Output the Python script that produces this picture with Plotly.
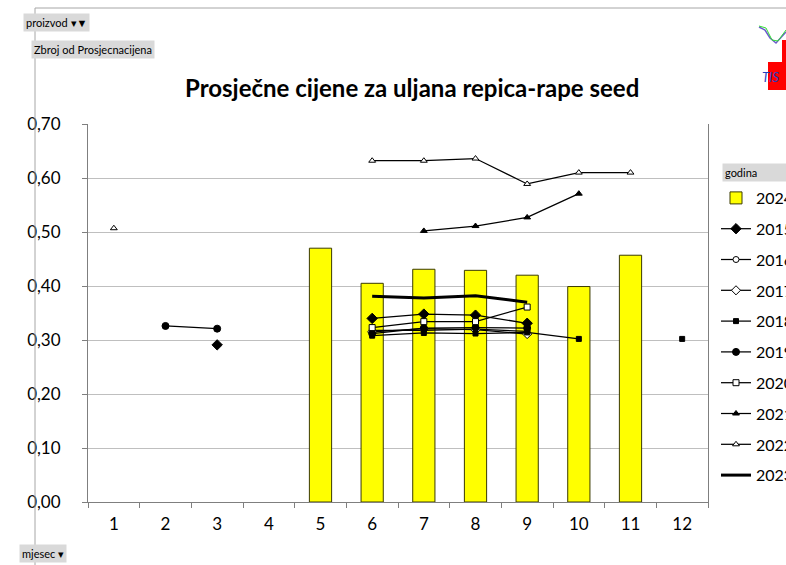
import plotly.graph_objects as go

# podaci: mjeseci i prosječne cijene po godinama
mjeseci = list(range(1, 13))
cijene_2024 = [None, None, None, None, 0.470, 0.405, 0.431, 0.429, 0.420, 0.399, 0.457, None]
cijene_2015 = [None, None, 0.291, None, None, 0.340, 0.348, 0.346, 0.331, None, None, None]
cijene_2016 = [None, None, None, None, None, 0.318, 0.318, 0.320, 0.316, None, None, None]
cijene_2017 = [None, None, None, None, None, 0.315, 0.321, 0.319, 0.311, None, None, None]
cijene_2018 = [None, None, None, None, None, 0.308, 0.313, 0.312, 0.314, 0.302, None, 0.302]
cijene_2019 = [None, 0.326, 0.321, None, None, 0.312, 0.322, 0.323, 0.322, None, None, None]
cijene_2020 = [None, None, None, None, None, 0.323, 0.334, 0.334, 0.361, None, None, None]
cijene_2021 = [None, None, None, None, None, None, 0.502, 0.511, 0.527, 0.571, None, None]
cijene_2022 = [0.507, None, None, None, None, 0.632, 0.632, 0.636, 0.589, 0.610, 0.610, None]
cijene_2023 = [None, None, None, None, None, 0.381, 0.378, 0.382, 0.370, None, None, None]

FONT = "Lato"

# piksel -> paper koordinate (plot area 88..708 x 124..502)
W, H = 786, 565
L, R, T, B = 88, 708, 124, 502


def px(x):
    return (x - L) / (R - L)


def py(y):
    return (B - y) / (B - T)


fig = go.Figure()

fig.add_trace(go.Bar(
    x=mjeseci, y=cijene_2024, name="2024", width=0.43,
    marker=dict(color="#ffff00", line=dict(color="#3a3a00", width=1)),
    legendgroup="2024",
))

# linijske serije: (ime, podaci, simbol, veličina, ispuna)
serije = [
    ("2015", cijene_2015, "diamond", 8, "black"),
    ("2016", cijene_2016, "circle", 6, "white"),
    ("2017", cijene_2017, "diamond", 7, "white"),
    ("2018", cijene_2018, "square", 5, "black"),
    ("2019", cijene_2019, "circle", 7, "black"),
    ("2020", cijene_2020, "square", 6, "white"),
    ("2021", cijene_2021, "triangle-up", 6, "black"),
    ("2022", cijene_2022, "triangle-up", 6, "white"),
]
for ime, vals, sym, size, fill in serije:
    fig.add_trace(go.Scatter(
        x=mjeseci, y=vals, name=ime, mode="lines+markers",
        line=dict(color="black", width=1.25),
        marker=dict(symbol=sym, size=size, color=fill, line=dict(color="black", width=1)),
        legendgroup=ime,
    ))

fig.add_trace(go.Scatter(
    x=mjeseci, y=cijene_2023, name="2023", mode="lines",
    line=dict(color="black", width=3), legendgroup="2023",
))

shapes = [
    # okvir grafikona
    dict(type="line", xref="paper", yref="paper", x0=px(35), x1=px(W + 5), y0=py(8), y1=py(8),
         line=dict(color="#a6a6a6", width=1)),
    dict(type="line", xref="paper", yref="paper", x0=px(35), x1=px(35), y0=py(8), y1=py(H + 5),
         line=dict(color="#a6a6a6", width=1)),
    # logo
    dict(type="rect", xref="paper", yref="paper", x0=px(768), x1=px(790), y0=py(62), y1=py(90),
         fillcolor="#ff0000", line=dict(width=0)),
    dict(type="rect", xref="paper", yref="paper", x0=px(782), x1=px(790), y0=py(40), y1=py(62),
         fillcolor="#ff0000", line=dict(width=0)),
    dict(type="path", xref="paper", yref="paper",
         path="M %f,%f L %f,%f L %f,%f L %f,%f L %f,%f" % (
             px(759), py(27), px(765), py(30), px(770), py(38), px(776), py(43), px(786), py(32)),
         line=dict(color="#6a5acd", width=1.5)),
    dict(type="path", xref="paper", yref="paper",
         path="M %f,%f L %f,%f L %f,%f L %f,%f L %f,%f" % (
             px(759), py(26), px(766), py(28), px(772), py(40), px(778), py(41), px(786), py(30)),
         line=dict(color="#33dd33", width=1)),
]

btn = dict(xref="paper", yref="paper", showarrow=False, bgcolor="#d9d9d9", yanchor="middle",
           font=dict(family=FONT, size=11, color="black"), borderpad=2)
annotations = [
    dict(text="Prosječne cijene za uljana repica-rape seed", x=px(412), y=py(88),
         xref="paper", yref="paper", showarrow=False, yanchor="middle",
         font=dict(family=FONT, size=24, color="black", weight="bold")),
    dict(text="proizvod ▾▼", x=px(23), y=py(22), xanchor="left", **btn),
    dict(text="Zbroj od Prosjecnacijena", x=px(31), y=py(50), xanchor="left", **btn),
    dict(text="mjesec ▾", x=px(19), y=py(553), xanchor="left", **btn),
    dict(text="godina" + "&nbsp;" * 20, x=px(722), y=py(172), xanchor="left", **btn),
    dict(text="<i>TIS</i>", x=px(760), y=py(77), xref="paper", yref="paper", showarrow=False,
         xanchor="left", yanchor="middle", font=dict(family=FONT, size=13, color="#1f3fbf")),
]

fig.update_layout(
    width=W, height=H,
    margin=dict(l=L, r=W - R, t=T, b=H - B, autoexpand=False),
    paper_bgcolor="white", plot_bgcolor="white",
    separators=", ",
    font=dict(family=FONT, size=17, color="black"),
    showlegend=True,
    legend=dict(x=px(716), y=py(181), xanchor="left", yanchor="top",
                traceorder="grouped", tracegroupgap=7, itemwidth=30,
                font=dict(family=FONT, size=16), bgcolor="rgba(0,0,0,0)"),
    shapes=shapes,
    annotations=annotations,
    xaxis=dict(range=[0.5, 12.5], tickvals=mjeseci, ticks="", showgrid=False,
               showline=True, linecolor="#7f7f7f", linewidth=1, zeroline=False,
               ticklabelstandoff=7,
               minor=dict(tick0=0.5, dtick=1, ticks="outside", ticklen=5,
                          tickcolor="#7f7f7f", showgrid=False)),
    yaxis=dict(range=[0, 0.7], dtick=0.1, tickformat=".2f", ticks="outside", ticklen=5,
               tickcolor="#7f7f7f", showgrid=True, gridcolor="#bfbfbf", gridwidth=1,
               showline=True, linecolor="#7f7f7f", mirror=True, zeroline=False,
               ticklabelstandoff=18),
)

# bez margine stranice da bi grafikon stao u prozor
fig.write_html("out.html", config={"displayModeBar": False},
               post_script="document.body.style.margin='0';")
